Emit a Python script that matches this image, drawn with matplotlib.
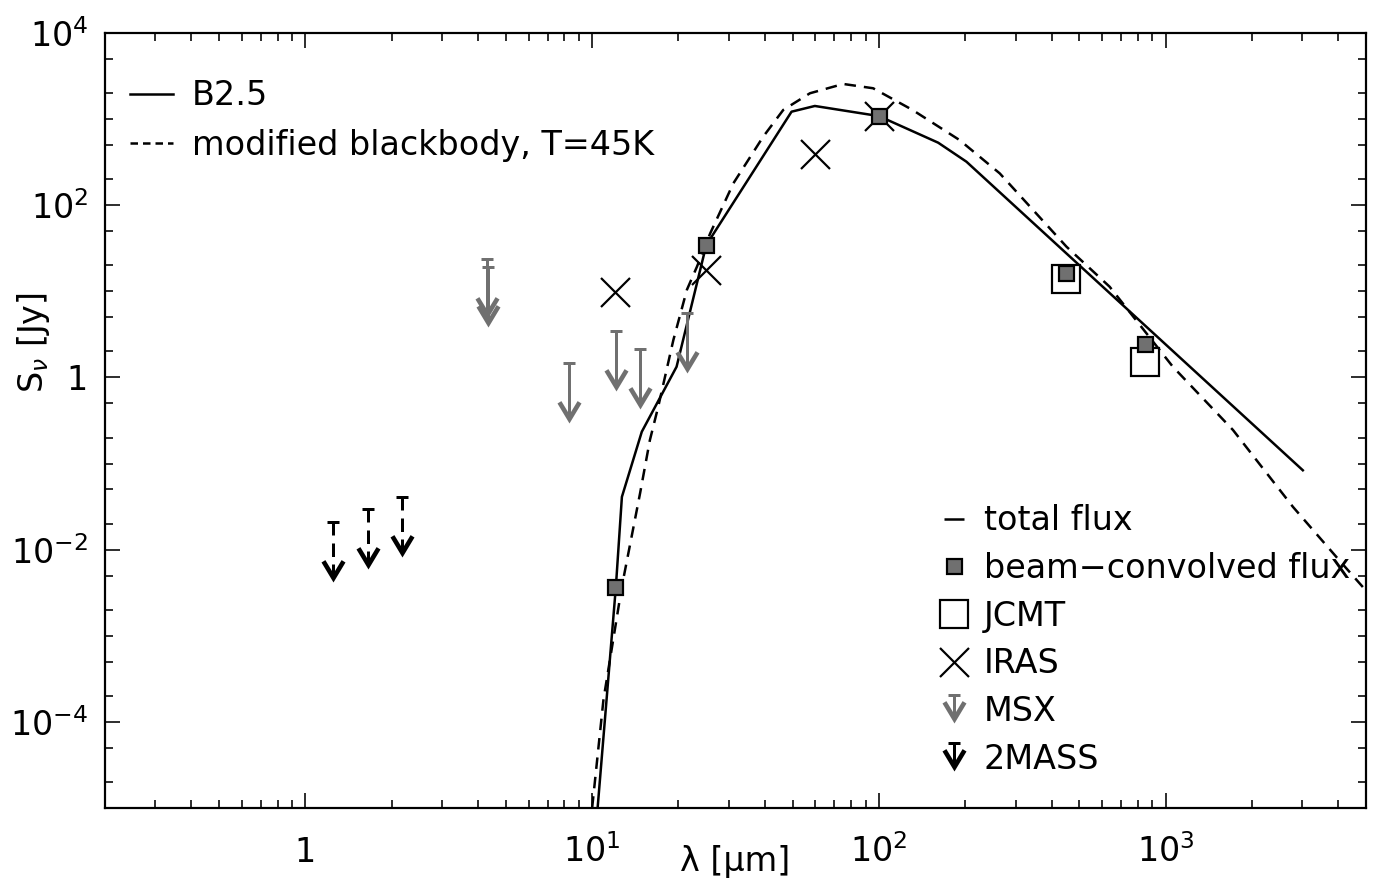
import numpy as np
import matplotlib
matplotlib.use("Agg")
import matplotlib.pyplot as plt
from matplotlib.path import Path
from matplotlib.lines import Line2D
from matplotlib.ticker import FixedLocator, LogLocator, NullFormatter

DPI = 100
GRAY = "#707070"

# B2.5 model SED (wavelength in micron, flux in Jy)
b25_wave = [10.0, 12.1, 12.7, 14.9, 19.7, 25.0, 49.6, 59.8, 100.0, 161.0, 202.0, 3010.0]
b25_flux = [1.7e-6, 3.7e-3, 0.041, 0.234, 1.33, 34.4, 1219, 1420, 1084, 532, 320, 0.0835]

# modified blackbody, T=45K
mbb_wave = [9.84, 10.95, 12.69, 14.7, 15.9, 17.0, 19.2, 21.4, 23.2, 25.8, 31.1, 39.5,
            46.4, 57.5, 75.1, 95.5, 131.0, 191.0, 264.0, 451.0, 638.0, 1060.0,
            1718.0, 2780.0, 4036.0, 4977.0]
mbb_flux = [6e-6, 1.8e-4, 3.7e-3, 0.0454, 0.187, 0.457, 2.72, 10.4, 19.3, 47.0, 180.0, 625.0,
            1277.0, 1995.0, 2558.0, 2280.0, 1277.0, 572.0, 234.0, 33.0, 11.3, 1.33,
            0.245, 0.0314, 0.0075, 0.0034]

# beam-convolved model fluxes
beam_wave = [12.0, 25.0, 100.0, 450.0, 850.0]
beam_flux = [3.7e-3, 34.4, 1084.0, 16.4, 2.46]

# observed fluxes
jcmt_wave = [450.0, 850.0]
jcmt_flux = [13.9, 1.50]

iras_wave = [12.0, 25.0, 60.0, 100.0]
iras_flux = [9.9, 17.7, 390.0, 1084.0]

# upper limits
msx_wave = [4.29, 4.35, 8.28, 12.13, 14.65, 21.34]
msx_limit = [23.5, 19.0, 1.46, 3.49, 2.14, 5.64]

tmass_wave = [1.25, 1.65, 2.17]
tmass_limit = [0.0207, 0.0294, 0.0411]

x_ticks = [1, 10, 100, 1000]
x_ticklabels = ["1", r"$\mathdefault{10^{1}}$", r"$\mathdefault{10^{2}}$", r"$\mathdefault{10^{3}}$"]
y_ticks = [1e-4, 1e-2, 1, 1e2, 1e4]
y_ticklabels = [r"$\mathdefault{10^{-4}}$", r"$\mathdefault{10^{-2}}$", "1",
                r"$\mathdefault{10^{2}}$", r"$\mathdefault{10^{4}}$"]


def pt(pixels):
    return pixels * 72.0 / DPI


def limit_marker(length, dashes=None, center=False):
    """Upper-limit symbol: cap bar at the origin, shaft and chevron head below."""
    def rect(x0, x1, y0, y1):
        return [(x0, y0), (x1, y0), (x1, y1), (x0, y1), (x0, y0)]

    tip = -length
    notch = tip + 9
    polys = [rect(-6, 6, -1.5, 1.5)]
    if dashes is None:
        polys.append(rect(-1.5, 1.5, notch, -1.5))
    else:
        for top, bot in dashes:
            polys.append(rect(-1.5, 1.5, bot, top))
    polys.append([(0, tip), (12, tip + 20), (8.1, tip + 22.4), (0, notch),
                  (-8.1, tip + 22.4), (-12, tip + 20), (0, tip)])
    verts, codes = [], []
    shift = length / 2.0 if center else 0.0
    for p in polys:
        verts += [(x, y + shift) for x, y in p]
        codes += [Path.MOVETO] + [Path.LINETO] * (len(p) - 2) + [Path.CLOSEPOLY]
    verts = np.array(verts)
    size = pt(2 * np.abs(verts).max())
    return Path(verts, codes), size


msx_arrow, msx_size = limit_marker(60)
tmass_arrow, tmass_size = limit_marker(60, dashes=[(-1.5, -13), (-21, -34.5), (-42, -51)])
key_arrow, key_size = limit_marker(28, center=True)

fig = plt.figure(figsize=(13.85, 8.84), dpi=DPI)
ax = fig.add_axes([0.0758, 0.0860, 0.9105, 0.8767])

lw = pt(2.5)
ax.plot(b25_wave, b25_flux, color="k", lw=lw, zorder=2)
ax.plot(mbb_wave, mbb_flux, color="k", lw=lw, dashes=(4.6, 3.2), zorder=2)

ax.plot(jcmt_wave, jcmt_flux, ls="none", marker="s", ms=pt(28), mfc="white",
        mec="k", mew=pt(2.2), zorder=3)
ax.plot(iras_wave, iras_flux, ls="none", marker="x", ms=pt(29), mec="k",
        mew=pt(2.2), zorder=3)
ax.plot(beam_wave, beam_flux, ls="none", marker="s", ms=pt(15), mfc=GRAY,
        mec="k", mew=pt(2.2), zorder=4)
ax.plot(msx_wave, msx_limit, ls="none", marker=msx_arrow, ms=msx_size,
        color=GRAY, mew=0, zorder=3)
ax.plot(tmass_wave, tmass_limit, ls="none", marker=tmass_arrow, ms=tmass_size,
        color="k", mew=0, zorder=3)

ax.set_xscale("log")
ax.set_yscale("log")
ax.set_xlim(0.2, 5000)
ax.set_ylim(1e-5, 1e4)

ax.xaxis.set_major_locator(FixedLocator(x_ticks))
ax.set_xticklabels(x_ticklabels, va="baseline")
ax.xaxis.set_minor_locator(LogLocator(base=10, subs=np.arange(2, 10), numticks=100))
ax.xaxis.set_minor_formatter(NullFormatter())
ax.yaxis.set_major_locator(FixedLocator(y_ticks))
ax.set_yticklabels(y_ticklabels)
ax.yaxis.set_minor_locator(LogLocator(base=10, subs=(1.0, 2.0, 5.0), numticks=100))
ax.yaxis.set_minor_formatter(NullFormatter())

ax.tick_params(which="both", direction="in", top=True, right=True, width=pt(1.6),
               labelsize=24)
ax.tick_params(which="major", length=pt(15))
ax.tick_params(which="minor", length=pt(8))
ax.tick_params(axis="x", which="major", pad=pt(54))
ax.tick_params(axis="y", which="major", pad=pt(17))
for side in ax.spines.values():
    side.set_linewidth(pt(2.2))

ax.set_xlabel("λ [μm]", fontsize=24)
ax.xaxis.set_label_coords(0.5, -0.048)
ax.set_ylabel(r"S$_{\nu}$ [Jy]", fontsize=24)
ax.yaxis.set_label_coords(-0.042, 0.60)

model_keys = [Line2D([], [], color="k", lw=lw),
              Line2D([], [], color="k", lw=lw, dashes=(3.0, 2.0))]
leg1 = ax.legend(model_keys, ["B2.5", "modified blackbody, T=45K"],
                 loc="upper left", bbox_to_anchor=(0.0198, 0.940), frameon=False,
                 fontsize=24, handlelength=1.3, handletextpad=0.55,
                 labelspacing=0.5, borderpad=0, borderaxespad=0)
ax.add_artist(leg1)

data_keys = [
    Line2D([], [], ls="none", marker="_", ms=pt(20), mew=pt(2.5), color="k"),
    Line2D([], [], ls="none", marker="s", ms=pt(15), mfc=GRAY, mec="k", mew=pt(2.2)),
    Line2D([], [], ls="none", marker="s", ms=pt(28), mfc="white", mec="k", mew=pt(2.2)),
    Line2D([], [], ls="none", marker="x", ms=pt(29), mec="k", mew=pt(2.2)),
    Line2D([], [], ls="none", marker=key_arrow, ms=key_size, color=GRAY, mew=0),
    Line2D([], [], ls="none", marker=key_arrow, ms=key_size, color="k", mew=0),
]
ax.legend(data_keys, ["total flux", "beam−convolved flux", "JCMT", "IRAS", "MSX", "2MASS"],
          loc="upper left", bbox_to_anchor=(0.661, 0.392), frameon=False,
          fontsize=24, handlelength=0.95, handletextpad=0.4, labelspacing=0.44,
          borderpad=0, borderaxespad=0, numpoints=1)

fig.savefig("out.png", dpi=DPI)
